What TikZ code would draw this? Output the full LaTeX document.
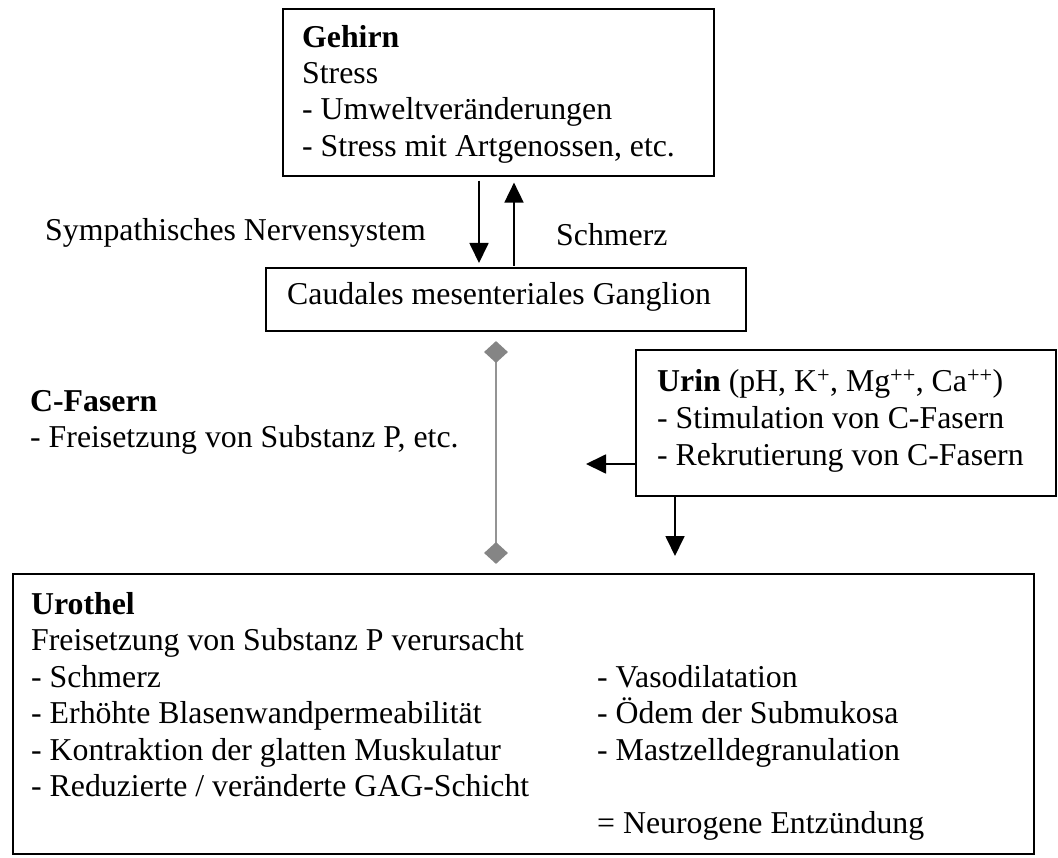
\documentclass[tikz,border=0pt]{standalone}
\usepackage{fontspec}
\setmainfont{Liberation Serif}
\usetikzlibrary{arrows.meta,shapes.geometric}
\tikzset{
  box/.style={draw, line width=1.6pt, inner sep=0pt, anchor=north west},
  txt/.style={anchor=base west, inner sep=0pt},
  arr/.style={line width=1.8pt, -{Triangle[width=19pt,length=20pt]}},
  dia/.style={diamond, fill=black!48, draw=none, inner sep=0pt, minimum width=24pt, minimum height=22pt},
  gline/.style={draw=black!42, line width=1.5pt}
}
\begin{document}
\begin{tikzpicture}[x=1pt,y=-1pt,font=\fontsize{31.8}{36.5}\selectfont]
\useasboundingbox (0,0) rectangle (1058,858);
% boxes
\node[box, minimum width=431pt, minimum height=167pt] (gehirn) at (282,8) {};
\node[box, minimum width=480pt, minimum height=63pt] (ganglion) at (265,267) {};
\node[box, minimum width=420pt, minimum height=146pt] (urin) at (635,349) {};
\node[box, minimum width=1021pt, minimum height=280pt] (urothel) at (12,573) {};
% Gehirn text
\node[txt] (g1) at (302,48) {\textbf{Gehirn}};
\node[txt] (g2) at (302,84) {Stress};
\node[txt] (g3) at (302,120) {- Umweltveränderungen};
\node[txt] (g4) at (302,157) {- Stress mit Artgenossen, etc.};
% Ganglion text
\node[txt] (gt) at (287,305) {Caudales mesenteriales Ganglion};
% labels
\node[txt] (symp) at (45,241) {Sympathisches Nervensystem};
\node[txt] (schm) at (556,246) {Schmerz};
% C-Fasern
\node[txt] (c1) at (30,412) {\textbf{C-Fasern}};
\node[txt] (c2) at (30,448) {- Freisetzung von Substanz P, etc.};
% Urin text
\node[txt] (u1) at (657,392) {\textbf{Urin} (pH, K\textsuperscript{+}, Mg\textsuperscript{++}, Ca\textsuperscript{++})};
\node[txt] (u2) at (657,428.5) {- Stimulation von C-Fasern};
\node[txt] (u3) at (657,465) {- Rekrutierung von C-Fasern};
% Urothel text
\node[txt] (o1) at (31,614) {\textbf{Urothel}};
\node[txt] (o2) at (31,650) {Freisetzung von Substanz P verursacht};
\node[txt] (o3) at (31,687) {- Schmerz};
\node[txt] (o4) at (31,723) {- Erhöhte Blasenwandpermeabilität};
\node[txt] (o5) at (31,760) {- Kontraktion der glatten Muskulatur};
\node[txt] (o6) at (31,796) {- Reduzierte / veränderte GAG-Schicht};
\node[txt] (r1) at (597,687) {- Vasodilatation};
\node[txt] (r2) at (597,723) {- Ödem der Submukosa};
\node[txt] (r3) at (597,760) {- Mastzelldegranulation};
\node[txt] (r4) at (597,833) {= Neurogene Entzündung};
% arrows Gehirn <-> Ganglion
\coordinate (dx) at (479,0);
\coordinate (ux) at (514,0);
\draw[arr, shorten <=4pt, shorten >=4pt] (gehirn.south -| dx) -- (ganglion.north -| dx);
\draw[arr, shorten <=1pt, shorten >=6pt] (ganglion.north -| ux) -- (gehirn.south -| ux);
% C-Fasern gray connector
\draw[gline] (496,352) -- (496,553);
\node[dia] (d1) at (496,352) {};
\node[dia] (d2) at (496,553) {};
% Urin arrows
\coordinate (ula) at (586,464);
\coordinate (uda) at (675,556);
\draw[arr] (urin.west |- ula) -- (ula);
\draw[arr] (urin.south -| uda) -- (uda);
\end{tikzpicture}
\end{document}
